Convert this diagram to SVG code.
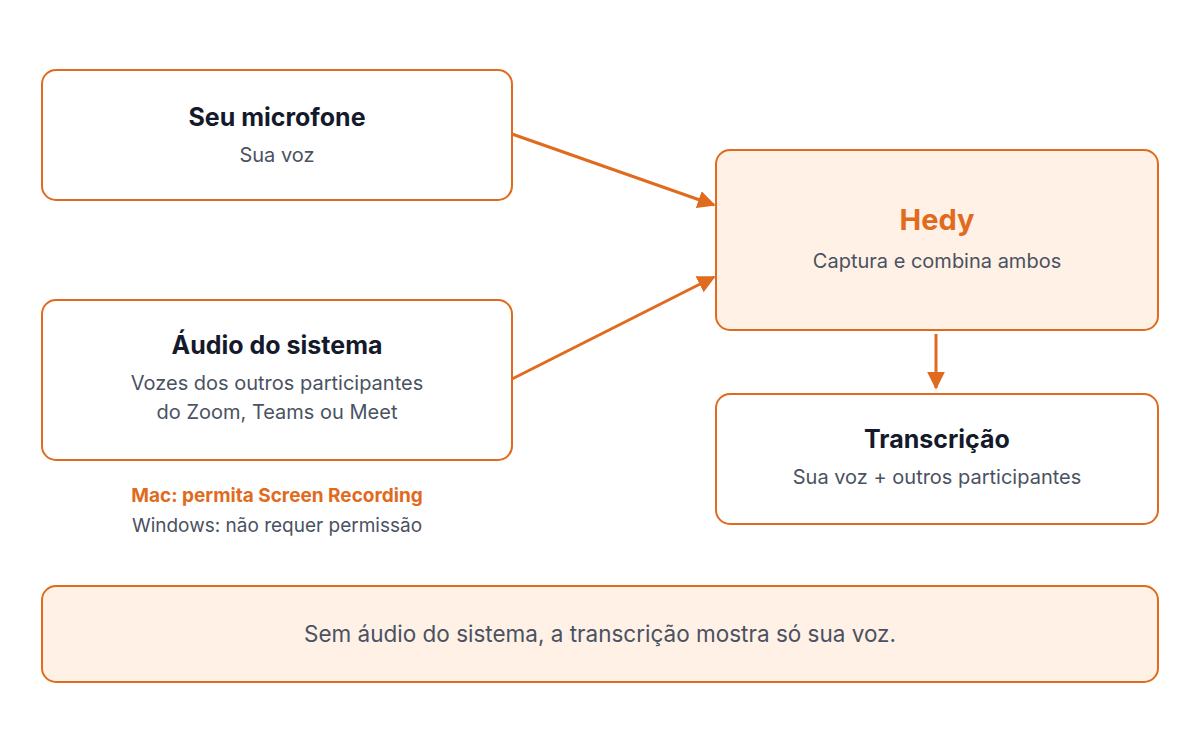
<svg xmlns="http://www.w3.org/2000/svg" width="1200" height="730" viewBox="0 0 1200 730">
<style>
.box{fill:#fff;stroke:#e06b1e;stroke-width:2}
.hl{fill:#fff1e5;stroke:#e06b1e;stroke-width:2}
.t{font-family:Inter,"Noto Sans",sans-serif;font-size:25px;font-weight:700;fill:#141a2b;text-anchor:middle}
.s{font-family:Inter,"Noto Sans",sans-serif;font-size:20px;fill:#4a5262;text-anchor:middle}
.o{fill:#e06b1e}
.c{stroke:#e06b1e;stroke-width:3;fill:none;marker-end:url(#ah)}
</style>
<defs><marker id="ah" viewBox="0 0 10 10" refX="9" refY="5" markerWidth="6" markerHeight="6" orient="auto" markerUnits="strokeWidth"><path d="M0,0L10,5L0,10z" fill="#e06b1e"/></marker></defs>
<rect width="1200" height="730" fill="#fff"/>
<g id="connectors">
<line class="c" x1="512" y1="134" x2="714" y2="205"/>
<line class="c" x1="512" y1="379" x2="714" y2="277"/>
<line class="c" x1="936" y1="334" x2="936" y2="388"/>
</g>
<g id="mic"><rect class="box" x="42" y="70" width="470" height="130" rx="14"/>
<text class="t" x="277" y="126">Seu microfone</text><text class="s" x="277" y="162">Sua voz</text></g>
<g id="audio"><rect class="box" x="42" y="300" width="470" height="160" rx="14"/>
<text class="t" x="277" y="354">Áudio do sistema</text><text class="s" x="277" y="390">Vozes dos outros participantes</text><text class="s" x="277" y="419">do Zoom, Teams ou Meet</text></g>
<g id="note"><text class="s o" x="277" y="502" style="font-weight:700;font-size:19px">Mac: permita Screen Recording</text><text class="s" x="277" y="532" style="font-size:19px">Windows: não requer permissão</text></g>
<g id="hedy"><rect class="hl" x="716" y="150" width="442" height="180" rx="14"/>
<text class="t o" x="937" y="230" style="font-size:29px">Hedy</text><text class="s" x="937" y="268">Captura e combina ambos</text></g>
<g id="transc"><rect class="box" x="716" y="394" width="442" height="130" rx="14"/>
<text class="t" x="937" y="448">Transcrição</text><text class="s" x="937" y="484">Sua voz + outros participantes</text></g>
<g id="footer"><rect class="hl" x="42" y="586" width="1116" height="96" rx="14"/>
<text class="s" x="600" y="642" style="font-size:22.5px">Sem áudio do sistema, a transcrição mostra só sua voz.</text></g>
</svg>
